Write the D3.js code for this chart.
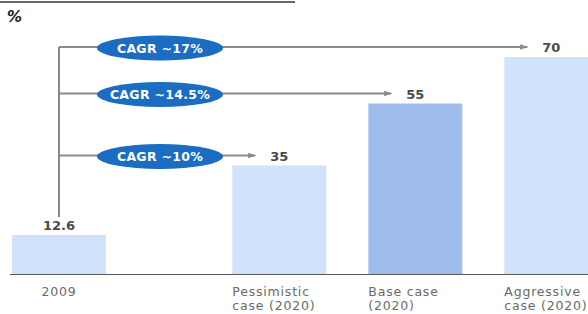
<!DOCTYPE html>
<html>
<head>
<meta charset="utf-8">
<script src="https://cdn.jsdelivr.net/npm/d3@7"></script>
<style>
  html, body { margin: 0; padding: 0; background: #fff; }
  svg { display: block; font-family: "DejaVu Sans", Verdana, sans-serif; }
</style>
</head>
<body>
<div id="chart"></div>
<script>
// data
const categories = ["2009", "Pessimistic\ncase (2020)", "Base case\n(2020)", "Aggressive\ncase (2020)"];
const values = [12.6, 35, 55, 70];
const cagrLabels = ["CAGR ~10%", "CAGR ~14.5%", "CAGR ~17%"];
const cagrTargets = [1, 2, 3]; // index of the bar each CAGR arrow points to
const unitLabel = "%";

const width = 588, height = 314;
const baseY = 274;
const barW = 94;
const gapSlots = 0.62; // extra empty space between 2009 and the 2020 cases

const svg = d3.select("#chart").append("svg")
    .attr("width", width)
    .attr("height", height);

// position of each bar (slot index, with a gap after the first)
const slot = (i) => i === 0 ? 0 : i + gapSlots;
const x = d3.scaleLinear()
    .domain([0, 1])
    .range([12, 12 + 136]);

const y = d3.scaleLinear()
    .domain([0, 70])
    .range([baseY, 57]);

const barColors = ["#d0e3fb", "#d0e3fb", "#9fbdec", "#d0e3fb"];

// title underline (cut off at top)
svg.append("line")
    .attr("x1", 0).attr("x2", 295)
    .attr("y1", 2).attr("y2", 2)
    .attr("stroke", "#333").attr("stroke-width", 1.5);

svg.append("text")
    .attr("x", 7).attr("y", 22)
    .attr("font-size", 15)
    .attr("font-weight", "bold")
    .attr("font-style", "italic")
    .attr("fill", "#222")
    .text(unitLabel);

// bars
svg.selectAll("rect.bar")
    .data(values)
    .enter().append("rect")
    .attr("class", "bar")
    .attr("x", (d, i) => x(slot(i)))
    .attr("y", d => y(d))
    .attr("width", barW)
    .attr("height", d => baseY - y(d))
    .attr("fill", (d, i) => barColors[i]);

// baseline
svg.append("line")
    .attr("x1", x(0) - 2).attr("x2", width)
    .attr("y1", baseY + 0.5).attr("y2", baseY + 0.5)
    .attr("stroke", "#5a5a5a").attr("stroke-width", 1);

// category labels
const cx = (i) => x(slot(i)) + barW / 2;
categories.forEach((c, i) => {
    const lines = c.split("\n");
    const multi = lines.length > 1;
    const t = svg.append("text")
        .attr("x", multi ? x(slot(i)) : cx(i))
        .attr("y", 296)
        .attr("text-anchor", multi ? "start" : "middle")
        .attr("font-size", 12.5)
        .attr("letter-spacing", 0.8)
        .attr("fill", "#6a6a6a");
    lines.forEach((l, k) => {
        t.append("tspan")
            .attr("x", multi ? x(slot(i)) : cx(i))
            .attr("dy", k === 0 ? 0 : 14)
            .text(l);
    });
});

// value labels, placed above each bar
const labelY = (d) => y(d) - 10;
svg.selectAll("text.val")
    .data(values)
    .enter().append("text")
    .attr("class", "val")
    .attr("x", (d, i) => cx(i))
    .attr("y", d => labelY(d) + 5)
    .attr("text-anchor", "middle")
    .attr("font-size", 13)
    .attr("font-weight", "bold")
    .attr("fill", "#4a4a4a")
    .text(d => d);

// CAGR connector
const stemX = cx(0);
const lineColor = "#8a8a8a";
const topLineY = labelY(values[cagrTargets[cagrTargets.length - 1]]);

svg.append("defs").append("marker")
    .attr("id", "arrow")
    .attr("viewBox", "0 0 10 10")
    .attr("refX", 9).attr("refY", 5)
    .attr("markerWidth", 4).attr("markerHeight", 4)
    .attr("orient", "auto")
    .append("path")
    .attr("d", "M0,1.5 L10,5 L0,8.5 z")
    .attr("fill", lineColor);

svg.append("line")
    .attr("x1", stemX).attr("x2", stemX)
    .attr("y1", topLineY)
    .attr("y2", labelY(values[0]) - 8)
    .attr("stroke", lineColor).attr("stroke-width", 2);

cagrTargets.forEach((t, k) => {
    const ly = labelY(values[t]);
    svg.append("line")
        .attr("x1", stemX).attr("x2", cx(t) - 24)
        .attr("y1", ly).attr("y2", ly)
        .attr("stroke", lineColor).attr("stroke-width", 2)
        .attr("marker-end", "url(#arrow)");

    const ex = 160;
    svg.append("ellipse")
        .attr("cx", ex).attr("cy", ly + 1)
        .attr("rx", 63).attr("ry", 12.5)
        .attr("fill", "#1a6dc2");
    svg.append("text")
        .attr("x", ex).attr("y", ly + 5.5)
        .attr("text-anchor", "middle")
        .attr("font-size", 12.5)
        .attr("font-weight", "bold")
        .attr("letter-spacing", 0.3)
        .attr("fill", "#fff")
        .text(cagrLabels[k]);
});
</script>
</body>
</html>
